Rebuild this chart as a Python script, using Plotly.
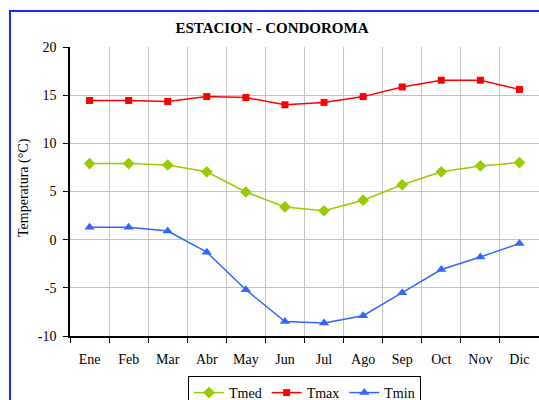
import plotly.graph_objects as go

months = ["Ene", "Feb", "Mar", "Abr", "May", "Jun", "Jul", "Ago", "Sep", "Oct", "Nov", "Dic"]
tmed = [7.9, 7.9, 7.75, 7.05, 4.95, 3.4, 3.0, 4.1, 5.7, 7.05, 7.65, 8.0]
tmax = [14.45, 14.45, 14.35, 14.85, 14.75, 14.0, 14.25, 14.85, 15.85, 16.55, 16.55, 15.6]
tmin = [1.28, 1.28, 0.9, -1.3, -5.2, -8.5, -8.65, -7.9, -5.5, -3.1, -1.8, -0.4]
y_ticks = [-10, -5, 0, 5, 10, 15, 20]
y_tick_labels = ["-10", "-5", "0", "5", "10", "15", "20"]

FONT = "Liberation Serif"

fig = go.Figure()
fig.add_trace(go.Scatter(x=months, y=tmed, name="Tmed", mode="lines+markers",
                         line=dict(color="#99cc00", width=1.5),
                         marker=dict(symbol="diamond", size=9, color="#99cc00")))
fig.add_trace(go.Scatter(x=months, y=tmax, name="Tmax", mode="lines+markers",
                         line=dict(color="#ff0000", width=1.5),
                         marker=dict(symbol="square", size=7, color="#ff0000")))
fig.add_trace(go.Scatter(x=months, y=tmin, name="Tmin", mode="lines+markers",
                         line=dict(color="#3366ff", width=1.5),
                         marker=dict(symbol="triangle-up", size=9, color="#3366ff")))

L, R, T, B = 70, 0, 47, 64
W, H = 539, 400
pw, ph = W - L - R, H - T - B

fig.update_layout(
    width=W, height=H,
    margin=dict(l=L, r=R, t=T, b=B, autoexpand=False),
    paper_bgcolor="white", plot_bgcolor="white",
    font=dict(family=FONT, size=14, color="black"),
    title=dict(text="<b>ESTACION - CONDOROMA</b>", font=dict(family=FONT, size=15),
               xref="container", x=272 / W, xanchor="center",
               yref="container", y=1 - 28 / H, yanchor="middle"),
    showlegend=True,
    legend=dict(orientation="h", x=0.5, xanchor="center",
                y=(336 - 376) / ph, yanchor="top",
                bordercolor="black", borderwidth=1, bgcolor="white",
                font=dict(family=FONT, size=14)),
    xaxis=dict(type="category", range=[-0.5, 11.5], showline=True, linecolor="black",
               linewidth=1.5, ticks="outside", ticklen=5, tickcolor="black",
               tickson="boundaries", showgrid=True, gridcolor="#c4c4c4", gridwidth=1,
               tickfont=dict(family=FONT, size=14), ticklabelstandoff=9),
    yaxis=dict(range=[-10, 20], tickmode="array", tickvals=y_ticks, ticktext=y_tick_labels,
               showline=True, linecolor="black", linewidth=1.5,
               ticks="outside", ticklen=5, tickcolor="black", showgrid=True,
               gridcolor="#c4c4c4", gridwidth=1, zeroline=False,
               tickfont=dict(family=FONT, size=14), ticklabelstandoff=4),
    annotations=[dict(text="Temperatura (°C)", textangle=-90, showarrow=False,
                      xref="paper", yref="paper", x=(24 - L) / pw, y=(336 - 188) / ph,
                      xanchor="center", yanchor="middle",
                      font=dict(family=FONT, size=14))],
    shapes=[dict(type="rect", xref="paper", yref="paper",
                 x0=(10 - L) / pw, x1=1.2, y0=-0.5, y1=(336 - 11) / ph,
                 line=dict(color="#2222ff", width=2), layer="below")],
)

fig.write_html("out.html", config={"displayModeBar": False},
               post_script="document.body.style.margin='0px';")
